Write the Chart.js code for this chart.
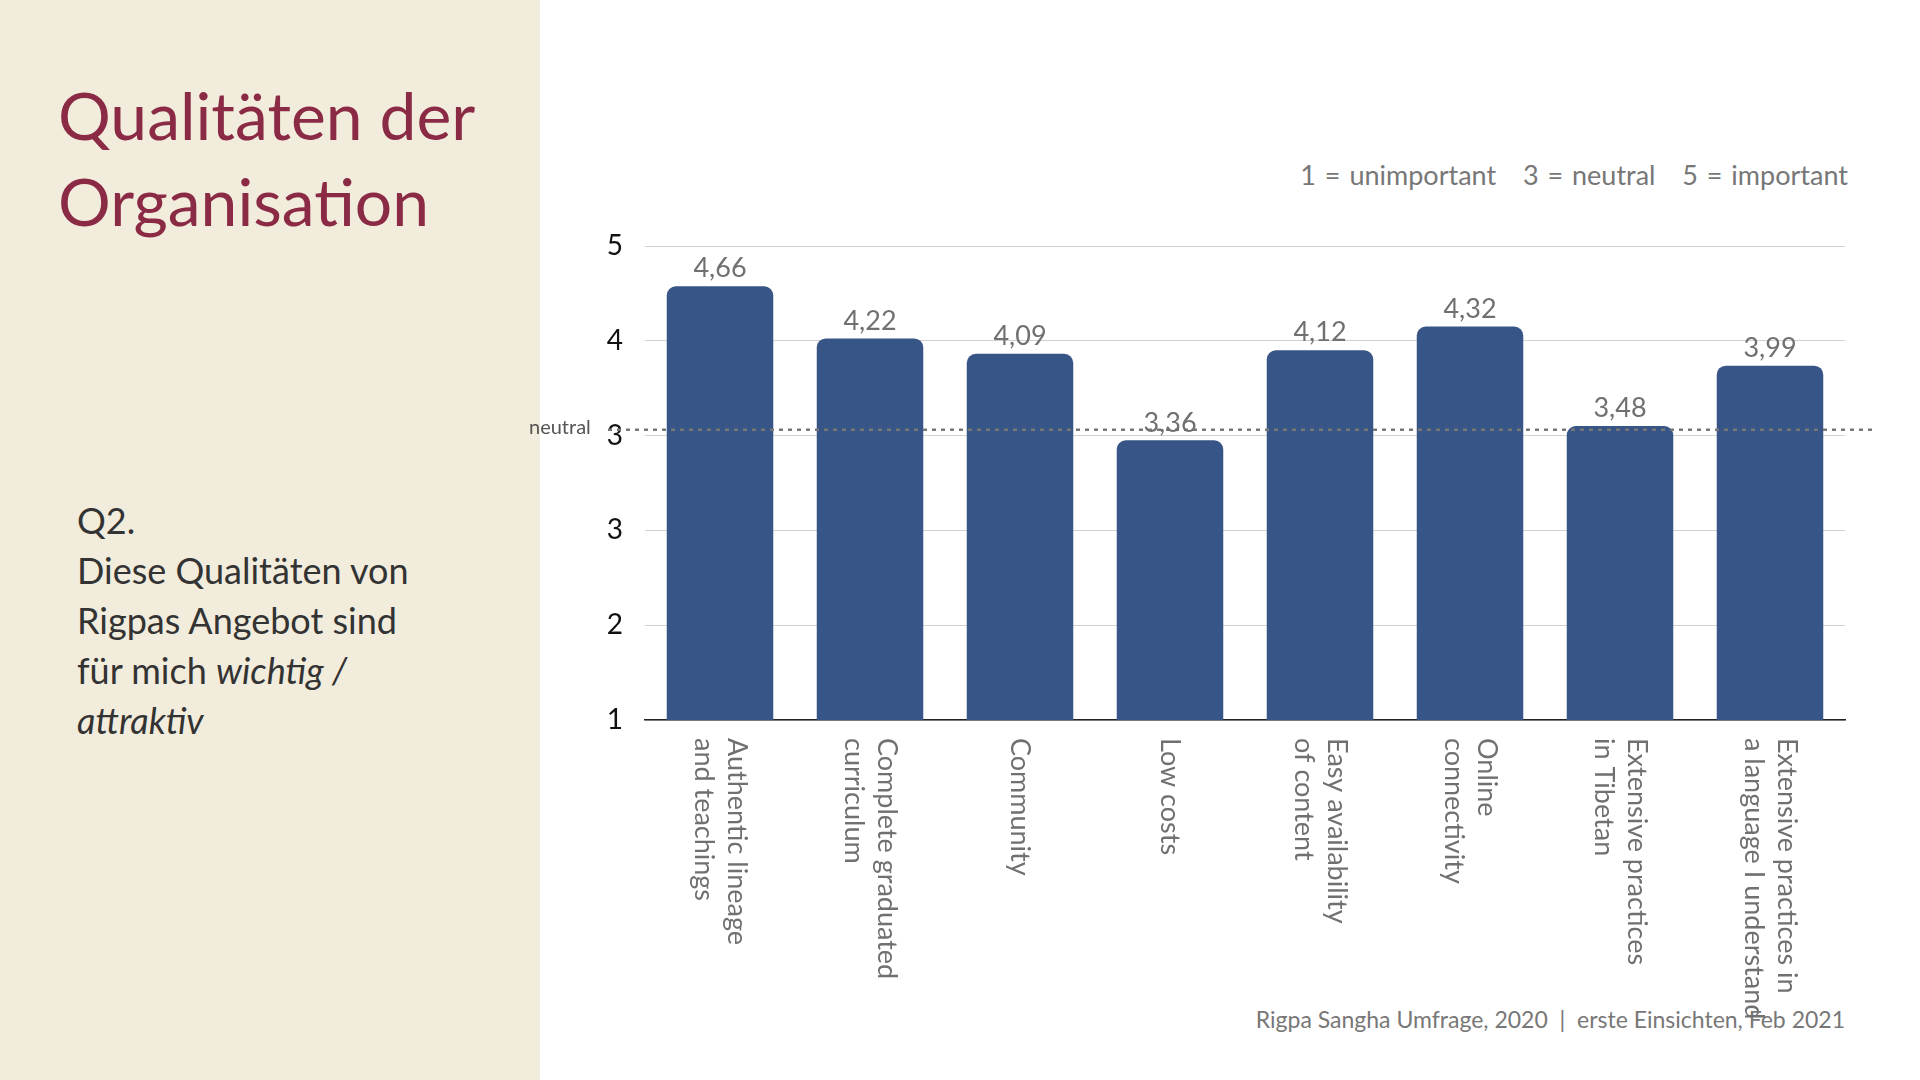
<!DOCTYPE html>
<html><head><meta charset="utf-8">
<script src="https://cdn.jsdelivr.net/npm/chart.js@4"></script>
<style>
body{margin:0;width:1920px;height:1080px;overflow:hidden;background:#fff;font-family:Lato,sans-serif;position:relative}
#panel{position:absolute;left:0;top:0;width:540px;height:1080px;background:#f2ecdc}
h1{position:absolute;left:58px;top:72px;margin:0;font-weight:400;font-size:66px;line-height:86px;color:#8a2a45}
#q{position:absolute;left:77px;top:495px;font-size:36px;line-height:50px;color:#333}
#legend{position:absolute;right:72px;top:158px;font-size:27px;color:#777;word-spacing:2px}
#foot{position:absolute;right:75px;top:1005px;font-size:23px;color:#777}
#wrap{position:absolute;left:0;top:0;width:1920px;height:1080px}
</style></head><body>
<div id="panel"></div>
<h1>Qualitäten der<br>Organisation</h1>
<div id="q">Q2.<br>Diese Qualitäten von<br>Rigpas Angebot sind<br>für mich <i>wichtig /<br>attraktiv</i></div>
<div id="legend">1 = unimportant &nbsp; 3 = neutral &nbsp; 5 = important</div>
<div id="foot">Rigpa Sangha Umfrage, 2020 &nbsp;|&nbsp; erste Einsichten, Feb 2021</div>
<div id="wrap"><canvas id="c"></canvas></div>
<script>
const categories = [
  ["Authentic lineage", "and teachings"],
  ["Complete graduated", "curriculum"],
  ["Community"],
  ["Low costs"],
  ["Easy availability", "of content"],
  ["Online", "connectivity"],
  ["Extensive practices", "in Tibetan"],
  ["Extensive practices in", "a language I understand"]
];
const scores = [4.66, 4.22, 4.09, 3.36, 4.12, 4.32, 3.48, 3.99];
const neutralLevel = 3.45;

const extras = {
  id: 'extras',
  afterDatasetsDraw(chart) {
    const ctx = chart.ctx, x = chart.scales.x, y = chart.scales.y;
    const meta = chart.getDatasetMeta(0);
    ctx.save();
    // neutral line
    const ny = y.getPixelForValue(neutralLevel);
    ctx.strokeStyle = '#777'; ctx.lineWidth = 2.5; ctx.setLineDash([4, 5]);
    ctx.beginPath(); ctx.moveTo(608, ny); ctx.lineTo(1872, ny); ctx.stroke();
    ctx.setLineDash([]);
    ctx.fillStyle = '#555'; ctx.font = '20px Lato'; ctx.textAlign = 'left'; ctx.textBaseline = 'middle';
    ctx.fillText('neutral', 529, ny - 2);
    // value labels
    ctx.fillStyle = '#707070'; ctx.font = '27px Lato'; ctx.textAlign = 'center'; ctx.textBaseline = 'bottom';
    meta.data.forEach((bar, i) => {
      ctx.fillText(scores[i].toFixed(2).replace('.', ','), bar.x, bar.y - 4);
    });
    // rotated category labels
    ctx.fillStyle = '#707070'; ctx.font = '27px Lato'; ctx.textAlign = 'left'; ctx.textBaseline = 'middle';
    categories.forEach((lines, i) => {
      const cx = x.getPixelForValue(i);
      const lh = 33, n = lines.length;
      lines.forEach((t, j) => {
        const off = ((n - 1) / 2 - j) * lh;
        ctx.save();
        ctx.translate(cx + off, y.bottom + 18);
        ctx.rotate(Math.PI / 2);
        ctx.fillText(t, 0, 0);
        ctx.restore();
      });
    });
    ctx.restore();
  }
};

new Chart(document.getElementById('c'), {
  type: 'bar',
  data: {
    labels: categories.map(l => l.join(' ')),
    datasets: [{
      data: scores,
      backgroundColor: '#375687',
      borderRadius: 9,
      borderSkipped: 'bottom',
      barPercentage: 0.71,
      categoryPercentage: 1
    }]
  },
  options: {
    responsive: true,
    maintainAspectRatio: false,
    animation: false,
    layout: { padding: { left: 585, right: 75, top: 246, bottom: 352 } },
    plugins: { legend: { display: false }, tooltip: { enabled: false } },
    scales: {
      x: {
        ticks: { display: false },
        grid: { display: false },
        border: { color: '#222', width: 1.5 }
      },
      y: {
        min: 1, max: 5,
        afterFit: s => { s.width = 60; },
        afterBuildTicks: s => { s.ticks = [1, 1.8, 2.6, 3.4, 4.2, 5].map(v => ({ value: v })); },
        ticks: {
          callback: v => Math.round(v),
          color: '#111', font: { size: 28, family: 'Lato' }, padding: 22
        },
        grid: { color: '#d0d0d0', drawTicks: false },
        border: { display: false }
      }
    }
  },
  plugins: [extras]
});
</script>
</body></html>
